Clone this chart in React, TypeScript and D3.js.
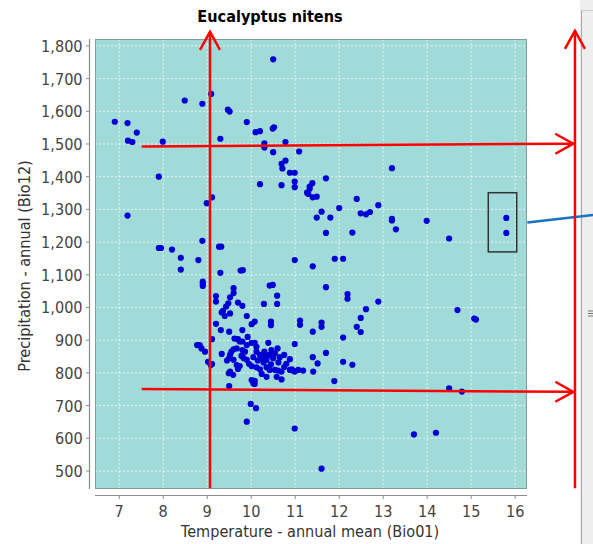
import React from "react";
import * as d3 from "d3";

// ---- data (temperature °C, precipitation mm) ----
const highRainfallSites: [number, number][] = [
  [6.9, 1568], [7.19, 1564], [7.4, 1535], [7.2, 1510], [7.3, 1506], [7.99, 1507], [7.9, 1400],
  [8.49, 1633], [8.89, 1623], [9.09, 1653], [9.47, 1605], [9.51, 1599], [9.3, 1516], [9.9, 1567],
  [10.1, 1536], [10.2, 1539], [10.49, 1547], [10.52, 1551], [10.3, 1502], [10.3, 1489], [10.5, 1475],
  [10.78, 1506], [11.09, 1477], [10.78, 1449], [10.69, 1439], [10.71, 1425], [10.88, 1412],
  [10.99, 1412], [10.5, 1759],
];

const eastSites: [number, number][] = [
  [10.99, 1385], [10.99, 1368], [10.2, 1377], [10.69, 1374], [11.39, 1380], [11.33, 1370],
  [11.7, 1395], [13.2, 1426], [11.33, 1363], [11.27, 1351], [11.3, 1347], [11.4, 1337], [11.49, 1339],
  [12.4, 1332], [12.89, 1313], [12.0, 1304], [11.6, 1293], [11.49, 1275], [11.8, 1275], [12.49, 1288],
  [12.61, 1285], [12.7, 1292], [13.2, 1271], [13.2, 1266], [13.29, 1239], [13.99, 1265], [14.5, 1211],
  [11.7, 1228], [12.3, 1229], [15.8, 1274], [15.8, 1228], [8.99, 1319], [9.11, 1337], [7.19, 1281],
];

const midSites: [number, number][] = [
  [7.9, 1182], [7.95, 1182], [8.2, 1177], [8.4, 1152], [8.4, 1116], [8.8, 1145], [8.89, 1204],
  [9.27, 1186], [9.32, 1186], [9.3, 1106], [9.76, 1113], [9.81, 1114], [8.9, 1079], [8.9, 1072],
  [8.9, 1066], [10.99, 1145], [11.9, 1149], [12.09, 1149], [11.4, 1126], [11.7, 1062], [12.19, 1041],
  [12.19, 1027], [12.89, 1018], [12.61, 995], [12.49, 968], [12.4, 941], [12.49, 925], [12.09, 908],
  [11.6, 954], [11.6, 941], [11.4, 926], [10.99, 888], [11.7, 861], [11.4, 848], [11.51, 829],
  [12.09, 834], [12.3, 825], [14.69, 992], [15.07, 966], [15.11, 963], [11.89, 775], [14.5, 753],
  [14.79, 743], [10.99, 630], [13.7, 612], [14.2, 617], [11.6, 507],
];

const clusterSites: [number, number][] = [
  [9.6, 1059], [10.42, 1067], [10.49, 1069], [10.59, 1036], [9.2, 1035], [9.2, 1018], [9.52, 1031],
  [9.48, 1013], [9.43, 1003], [9.36, 990], [9.33, 985], [9.7, 1015], [9.8, 1005], [9.6, 1044],
  [10.29, 1011], [10.59, 1011], [9.4, 974], [9.52, 982], [9.9, 974], [10.45, 957], [10.45, 946],
  [10.08, 957], [10.01, 949], [9.2, 950], [9.31, 931], [9.5, 926], [9.8, 931], [11.11, 960], [11.11, 947],
  [8.77, 885], [8.83, 885], [8.87, 875], [8.95, 865], [9.11, 903], [9.7, 903], [9.74, 896], [9.8, 896],
  [10.01, 892], [10.08, 892], [10.39, 892], [9.67, 875], [9.6, 872], [9.55, 865], [9.8, 870],
  [9.86, 865], [10.12, 880], [10.12, 865], [10.46, 870], [10.54, 860], [10.65, 848], [9.33, 858],
  [9.52, 855], [9.5, 845], [9.6, 840], [9.02, 834], [9.08, 824], [9.11, 827], [9.78, 852], [9.83, 845],
  [10.2, 855], [10.24, 845], [10.31, 850], [10.35, 840], [10.41, 855], [10.88, 842], [9.67, 824],
  [9.74, 821], [10.01, 821], [10.12, 817], [10.2, 811], [10.35, 817], [10.42, 809], [10.54, 809],
  [10.61, 807], [10.69, 804], [9.52, 804], [9.59, 794], [10.88, 809], [10.95, 807], [11.07, 809],
  [11.18, 807], [11.41, 804], [10.92, 811], [10.99, 804], [10.24, 797], [10.35, 788], [10.58, 788],
  [10.69, 780], [10.01, 778], [10.08, 776], [9.5, 760], [10.05, 768], [10.08, 766], [9.99, 705],
  [10.11, 692], [9.9, 651], [9.49, 799],
  [10.15, 838], [10.28, 832], [10.45, 826], [10.5, 845], [10.62, 832], [10.75, 818], [10.8, 828],
  [9.9, 840], [9.95, 828], [10.05, 848], [9.45, 838], [9.7, 812], [10.3, 865], [10.6, 875],
  [10.75, 855], [9.9, 885], [9.62, 905], [9.92, 910],
];

const xTicks = [7, 8, 9, 10, 11, 12, 13, 14, 15, 16];
const yTicks = [500, 600, 700, 800, 900, 1000, 1100, 1200, 1300, 1400, 1500, 1600, 1700, 1800];

const title = "Eucalyptus nitens";
const xLabel = "Temperature - annual mean (Bio01)";
const yLabel = "Precipitation - annual (Bio12)";

// annotation overlays (in data units)
const redArrows: { from: [number, number]; to: [number, number] }[] = [
  { from: [9.064, 447], to: [9.064, 1843] },
  { from: [7.512, 1492], to: [17.323, 1501] },
  { from: [7.512, 751], to: [17.323, 742] },
  { from: [17.36, 447], to: [17.36, 1846] },
];
const highlightBox = { t0: 15.39, t1: 16.036, p0: 1170, p1: 1351 };
const blueLink = { from: [16.277, 1260] as [number, number], to: [17.77, 1283] as [number, number] };

const W = 593;
const H = 544;
const FONT = "'DejaVu Sans', Verdana, sans-serif";

function Txt(props: {
  x: number; y: number; anchor?: string; size?: number; weight?: string | number;
  fill?: string; rotate?: number; children: React.ReactNode;
}) {
  const { x, y, anchor = "start", size = 14.5, weight = "normal", fill = "#444", rotate } = props;
  const tr = `translate(${x},${y})${rotate ? ` rotate(${rotate})` : ""} scale(1,1.1)`;
  return (
    <text transform={tr} textAnchor={anchor} fontSize={size} fontWeight={weight} fill={fill} fontFamily={FONT}>
      {props.children}
    </text>
  );
}

export default function App() {
  const pl = 95, pr = 527, pt = 39, pb = 489;
  const x = d3.scaleLinear().domain([6.45, 16.27]).range([pl, pr]);
  const y = d3.scaleLinear().domain([445, 1821]).range([pb, pt]);
  const fmt = d3.format(",");

  const allPoints = [...highRainfallSites, ...eastSites, ...midSites, ...clusterSites];

  const arrowHead = (a: [number, number], b: [number, number]) => {
    const x1 = x(a[0]), y1 = y(a[1]), x2 = x(b[0]), y2 = y(b[1]);
    const len = Math.hypot(x2 - x1, y2 - y1);
    const ux = (x2 - x1) / len, uy = (y2 - y1) / len;
    const px = -uy, py = ux;
    const back = 18, spread = 10;
    const w1 = [x2 - ux * back + px * spread, y2 - uy * back + py * spread];
    const w2 = [x2 - ux * back - px * spread, y2 - uy * back - py * spread];
    return `M${w1[0]},${w1[1]}L${x2},${y2}L${w2[0]},${w2[1]}`;
  };

  return (
    <svg width={W} height={H} style={{ position: "absolute", left: 0, top: 0, background: "#fff" }}>
      <rect x={0} y={0} width={W} height={H} fill="#ffffff" />
      {/* title */}
      <Txt x={270} y={21.5} anchor="middle" weight="bold" fill="#000">{title}</Txt>

      {/* plot background */}
      <rect x={pl} y={pt} width={pr - pl} height={pb - pt} fill="#a0dbd9" />
      {/* gridlines */}
      {xTicks.map((t) => (
        <line key={"gx" + t} x1={x(t)} x2={x(t)} y1={pt} y2={pb} stroke="#ffffff" strokeOpacity={0.7} strokeDasharray="2,2" />
      ))}
      {yTicks.map((t) => (
        <line key={"gy" + t} x1={pl} x2={pr} y1={y(t)} y2={y(t)} stroke="#ffffff" strokeOpacity={0.7} strokeDasharray="2,2" />
      ))}
      <rect x={pl + 0.5} y={pt + 0.5} width={pr - pl - 1} height={pb - pt - 1} fill="none" stroke="#8a9a9a" />

      {/* points */}
      {allPoints.map((d, i) => (
        <circle key={i} cx={x(d[0])} cy={y(d[1])} r={3.1} fill="#0000d4" />
      ))}

      {/* y axis */}
      <line x1={89.5} x2={89.5} y1={pt} y2={pb} stroke="#8c8c8c" strokeWidth={1.2} />
      {yTicks.map((t) => (
        <g key={"yt" + t}>
          <line x1={86} x2={89.5} y1={y(t)} y2={y(t)} stroke="#8c8c8c" />
          <Txt x={82.6} y={y(t) + 6} anchor="end">{fmt(t)}</Txt>
        </g>
      ))}
      <Txt x={30} y={(pt + pb) / 2 + 2} anchor="middle" rotate={-90} fill="#333">{yLabel}</Txt>

      {/* x axis */}
      <line x1={pl} x2={pr} y1={495.5} y2={495.5} stroke="#8c8c8c" strokeWidth={1.2} />
      {xTicks.map((t) => (
        <g key={"xt" + t}>
          <line x1={x(t)} x2={x(t)} y1={495.5} y2={499} stroke="#8c8c8c" />
          <Txt x={x(t)} y={516.5} anchor="middle">{t}</Txt>
        </g>
      ))}
      <Txt x={310} y={537} anchor="middle" fill="#333">{xLabel}</Txt>

      {/* right-side panel chrome */}
      <rect x={580} y={0} width={13} height={H} fill="#eeeeee" />
      <line x1={581.5} x2={581.5} y1={10} y2={H} stroke="#a8a8a8" />
      <line x1={581} x2={593} y1={10.5} y2={10.5} stroke="#cfcfcf" />
      {[311, 313.5, 316].map((gy) => (
        <line key={gy} x1={588} x2={593} y1={gy} y2={gy} stroke="#777" />
      ))}

      {/* highlight box and link */}
      <rect
        x={x(highlightBox.t0)} y={y(highlightBox.p1)}
        width={x(highlightBox.t1) - x(highlightBox.t0)} height={y(highlightBox.p0) - y(highlightBox.p1)}
        fill="none" stroke="#333" strokeWidth={1.5}
      />
      <line x1={x(blueLink.from[0])} y1={y(blueLink.from[1])} x2={x(blueLink.to[0])} y2={y(blueLink.to[1])} stroke="#1a72c0" strokeWidth={2.5} />

      {/* red arrows */}
      {redArrows.map((a, i) => (
        <g key={"ra" + i} stroke="#ff0000" strokeWidth={2.5} fill="none">
          <line x1={x(a.from[0])} y1={y(a.from[1])} x2={x(a.to[0])} y2={y(a.to[1])} />
          <path d={arrowHead(a.from, a.to)} />
        </g>
      ))}
    </svg>
  );
}
